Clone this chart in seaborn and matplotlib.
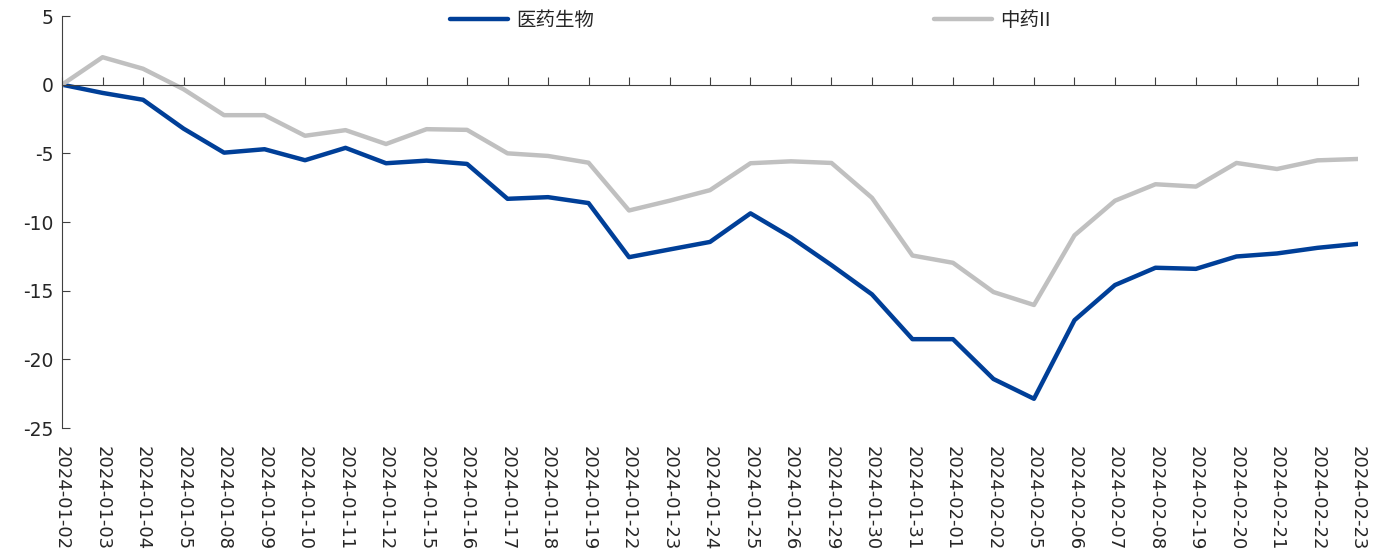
import matplotlib
matplotlib.use("Agg")
import matplotlib.pyplot as plt
import seaborn as sns
import pandas as pd

dates = ["2024-01-02", "2024-01-03", "2024-01-04", "2024-01-05", "2024-01-08",
         "2024-01-09", "2024-01-10", "2024-01-11", "2024-01-12", "2024-01-15",
         "2024-01-16", "2024-01-17", "2024-01-18", "2024-01-19", "2024-01-22",
         "2024-01-23", "2024-01-24", "2024-01-25", "2024-01-26", "2024-01-29",
         "2024-01-30", "2024-01-31", "2024-02-01", "2024-02-02", "2024-02-05",
         "2024-02-06", "2024-02-07", "2024-02-08", "2024-02-19", "2024-02-20",
         "2024-02-21", "2024-02-22", "2024-02-23"]
yiyao = [0, -0.6, -1.1, -3.2, -4.95, -4.7, -5.5, -4.6, -5.72, -5.53,
         -5.77, -8.31, -8.19, -8.62, -12.56, -12.0, -11.45, -9.37, -11.11, -13.14,
         -15.27, -18.53, -18.53, -21.43, -22.87, -17.15, -14.59, -13.33, -13.41, -12.51,
         -12.29, -11.88, -11.59]
zhongyao = [0, 2.0, 1.16, -0.33, -2.22, -2.22, -3.72, -3.31, -4.32, -3.24,
            -3.29, -5.0, -5.19, -5.68, -9.16, -8.45, -7.68, -5.72, -5.58, -5.70,
            -8.24, -12.44, -12.97, -15.10, -16.04, -10.97, -8.45, -7.25, -7.42, -5.70,
            -6.14, -5.51, -5.41]
names = ["医药生物", "中药II"]
colors = ["#003F98", "#C0C0C0"]

df = pd.DataFrame({
    "date": dates * 2,
    "value": yiyao + zhongyao,
    "series": [names[0]] * len(dates) + [names[1]] * len(dates),
})

sns.set_style("white")
plt.rcParams["font.family"] = ["DejaVu Sans", "Noto Sans CJK SC"]
plt.rcParams["axes.unicode_minus"] = False

fig = plt.figure(figsize=(13.82, 5.54), dpi=100)
ax = fig.add_axes([0.0449, 0.2274, 0.9377, 0.7437])
sns.lineplot(data=df, x="date", y="value", hue="series", palette=colors,
             linewidth=3.2, ax=ax)

ax.set_xlim(0, len(dates) - 1)
ax.set_ylim(-25, 5)
ax.set_yticks(range(-25, 6, 5))
ax.set_xlabel("")
ax.set_ylabel("")

for s in ["top", "right"]:
    ax.spines[s].set_visible(False)
ax.spines["bottom"].set_position(("data", 0))
ax.spines["bottom"].set_color("#404040")
ax.spines["left"].set_color("#404040")
ax.tick_params(axis="x", bottom=True, direction="in", length=6, width=0.8,
               color="#404040", labelrotation=270, pad=260, labelsize=13)
ax.tick_params(axis="y", left=True, direction="in", length=6, width=0.8,
               color="#404040", labelsize=13.5, pad=6)
for lab in ax.get_xticklabels():
    lab.set_verticalalignment("top")

ax.legend(loc="center", bbox_to_anchor=(0.531, 0.99), ncol=2, frameon=False,
          handlelength=3.0, handletextpad=0.4, columnspacing=17.5,
          prop={"family": ["Noto Sans CJK SC", "DejaVu Sans"], "size": 14})

fig.savefig("out.png", dpi=100)
